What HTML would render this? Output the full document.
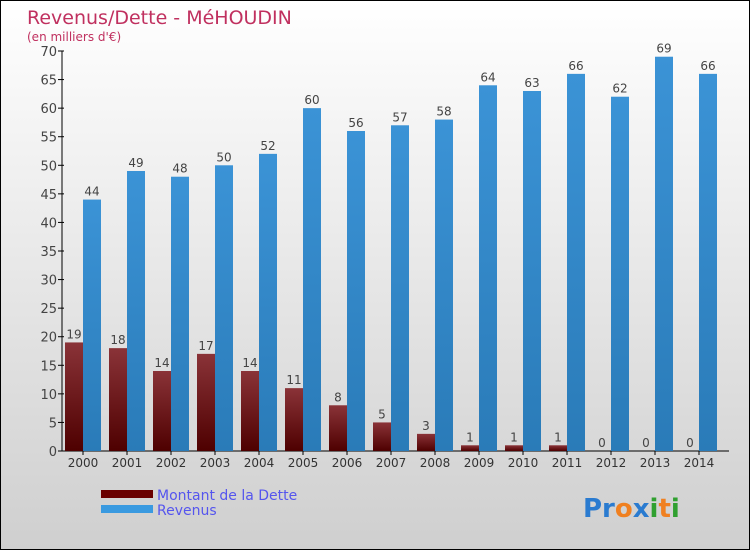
<!DOCTYPE html>
<html><head><meta charset="utf-8"><style>
body{margin:0;}
#c{position:relative;width:750px;height:550px;box-sizing:border-box;border:1px solid #000;background:linear-gradient(#ffffff,#cfcfcf);font-family:"DejaVu Sans","Liberation Sans",sans-serif;overflow:hidden}
svg text{font-family:"DejaVu Sans","Liberation Sans",sans-serif}
</style></head><body>
<div id="c">
<svg id="s" width="750" height="550">
<defs>
<linearGradient id="gd" x1="0" y1="0" x2="0" y2="1"><stop offset="0" stop-color="#8a3338"/><stop offset="1" stop-color="#4e0000"/></linearGradient>
<linearGradient id="gr" x1="0" y1="0" x2="0" y2="1"><stop offset="0" stop-color="#3b93d6"/><stop offset="1" stop-color="#2a7bb8"/></linearGradient>
</defs>
<text x="26" y="23" font-size="19" fill="#c0305f">Revenus/Dette - MéHOUDIN</text>
<text x="26" y="40" font-size="12" fill="#c0305f">(en milliers d'€)</text>
<g id="plot"></g>
<rect x="100" y="489" width="52" height="8" fill="#6a0000"/>
<text x="156" y="499" font-size="14" fill="#5555ee">Montant de la Dette</text>
<rect x="100" y="504" width="52" height="8" fill="#3a9ae0"/>
<text x="156" y="514" font-size="14" fill="#5555ee">Revenus</text>
<text x="582" y="516" font-size="26" font-weight="bold"><tspan fill="#2a7bd0">Pr</tspan><tspan fill="#f08020">o</tspan><tspan fill="#2a7bd0">x</tspan><tspan fill="#30a030">i</tspan><tspan fill="#f08020">t</tspan><tspan fill="#30a030">i</tspan></text>
</svg>
</div>
<script>
const years=["2000","2001","2002","2003","2004","2005","2006","2007","2008","2009","2010","2011","2012","2013","2014"];
const dette=[19,18,14,17,14,11,8,5,3,1,1,1,0,0,0];
const revenus=[44,49,48,50,52,60,56,57,58,64,63,66,62,69,66];
const yTicks=[0,5,10,15,20,25,30,35,40,45,50,55,60,65,70];
const NS="http://www.w3.org/2000/svg";
const g=document.getElementById('plot');
const y0=450,yMax=70,ph=400,left=61,step=44;
function y(v){return y0-v/yMax*ph;}
function xc(i){return 82+i*step;}
function mk(t,a,txt){const e=document.createElementNS(NS,t);for(const k in a)e.setAttribute(k,a[k]);if(txt!==undefined)e.textContent=txt;g.appendChild(e);return e;}
let ax=mk('line',{x1:left,y1:y(yMax),x2:left,y2:y0,stroke:'#000'});


let bx=mk('line',{x1:left,y1:y0,x2:728,y2:y0,stroke:'#000'});


yTicks.forEach(t=>{
 let l=mk('line',{x1:left-4,y1:y(t),x2:left+2,y2:y(t),stroke:'#000'});
 
 
 let tx=mk('text',{x:left-5,y:y(t)+5,'font-size':13,fill:'#444','text-anchor':'end'},String(t));
 
 
});
years.forEach((yr,i)=>{
 const c=xc(i);
 let tk=mk('line',{x1:c,y1:y0,x2:c,y2:y0+4,stroke:'#000'});
 
 
 let lb=mk('text',{x:c,y:y0+16,'font-size':12,fill:'#333','text-anchor':'middle'},yr);
 
 
 const d=dette[i];
 let b1=mk('rect',{x:c-18,y:y(d),width:18,height:y0-y(d),fill:'url(#gd)'});
 
 
 let v1=mk('text',{x:c-9,y:y(d)-4,'font-size':12,fill:'#444','text-anchor':'middle'},String(d));
 
 
 const r=revenus[i];
 let b2=mk('rect',{x:c,y:y(r),width:18,height:y0-y(r),fill:'url(#gr)'});
 
 
 let v2=mk('text',{x:c+9,y:y(r)-4,'font-size':12,fill:'#444','text-anchor':'middle'},String(r));
 
 
});
</script>
</body></html>
